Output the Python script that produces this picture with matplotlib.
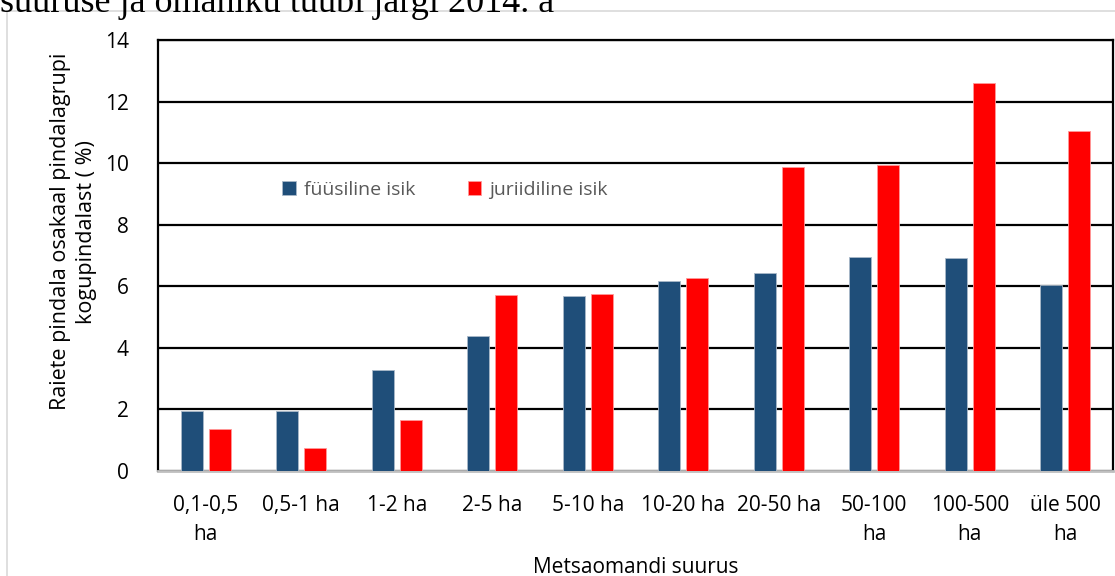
import matplotlib.pyplot as plt
import numpy as np
from matplotlib.patches import Rectangle

# andmed
kategooriad = ['0,1-0,5\nha', '0,5-1 ha', '1-2 ha', '2-5 ha', '5-10 ha',
               '10-20 ha', '20-50 ha', '50-100\nha', '100-500\nha', 'üle 500\nha']
fyysiline = [1.95, 1.95, 3.28, 4.40, 5.68, 6.17, 6.43, 6.95, 6.93, 6.04]
juriidiline = [1.36, 0.75, 1.65, 5.71, 5.75, 6.27, 9.87, 9.93, 12.60, 11.04]

plt.rcParams['font.family'] = ['Open Sans', 'DejaVu Sans']

fig = plt.figure(figsize=(11.15, 5.76), dpi=100)

# chart border
fig.patches.append(Rectangle((7 / 1115, -0.1), 1.2, 1 - 11 / 576 + 0.1,
                             transform=fig.transFigure, fill=False,
                             edgecolor='#d9d9d9', linewidth=1.2))

# cut off title
fig.text(0.0, 1 - 12 / 576, 'suuruse ja omaniku tüübi järgi 2014. a',
         family='Liberation Serif', fontsize=26, ha='left', va='baseline')

ax = fig.add_axes([158 / 1115, 1 - 471 / 576, 955 / 1115, 431 / 576])

x = np.arange(len(kategooriad))
w = 0.23
ax.bar(x - 0.145, fyysiline, w, color='#1f4e79', edgecolor='#a9b8c9',
       linewidth=0.6, label='füüsiline isik', zorder=3)
ax.bar(x + 0.145, juriidiline, w, color='#ff0000', edgecolor='#ff9999',
       linewidth=0.6, label='juriidiline isik', zorder=3)

ax.set_xlim(-0.5, len(kategooriad) - 0.5)
ax.set_ylim(0, 14)
ax.set_yticks(range(0, 15, 2))
ax.yaxis.grid(True, color='black', linewidth=1.6, zorder=0)
ax.set_axisbelow(True)

ax.set_xticks(x)
ax.set_xticklabels(kategooriad, fontsize=15, linespacing=1.5)
ax.tick_params(axis='y', labelsize=15, length=0, pad=21)
ax.tick_params(axis='x', length=0, pad=17)

for s in ['left', 'top', 'right']:
    ax.spines[s].set_color('black')
    ax.spines[s].set_linewidth(1.6)
ax.spines['bottom'].set_color('#bfbfbf')
ax.spines['bottom'].set_linewidth(2)

ax.set_ylabel('Raiete pindala osakaal pindalagrupi\nkogupindalast ( %)',
              fontsize=15.5, linespacing=1.3)
ax.yaxis.set_label_coords(-0.064, 0.555)
ax.set_xlabel('Metsaomandi suurus', fontsize=15, labelpad=9)

ax.legend(loc='center left', bbox_to_anchor=(0.112, (471 - 190) / 431),
          ncol=2, frameon=False, fontsize=14, handlelength=0.7,
          handleheight=0.7, handletextpad=0.4, columnspacing=2.7,
          labelcolor='#595959')

fig.savefig('out.png', dpi=100)
